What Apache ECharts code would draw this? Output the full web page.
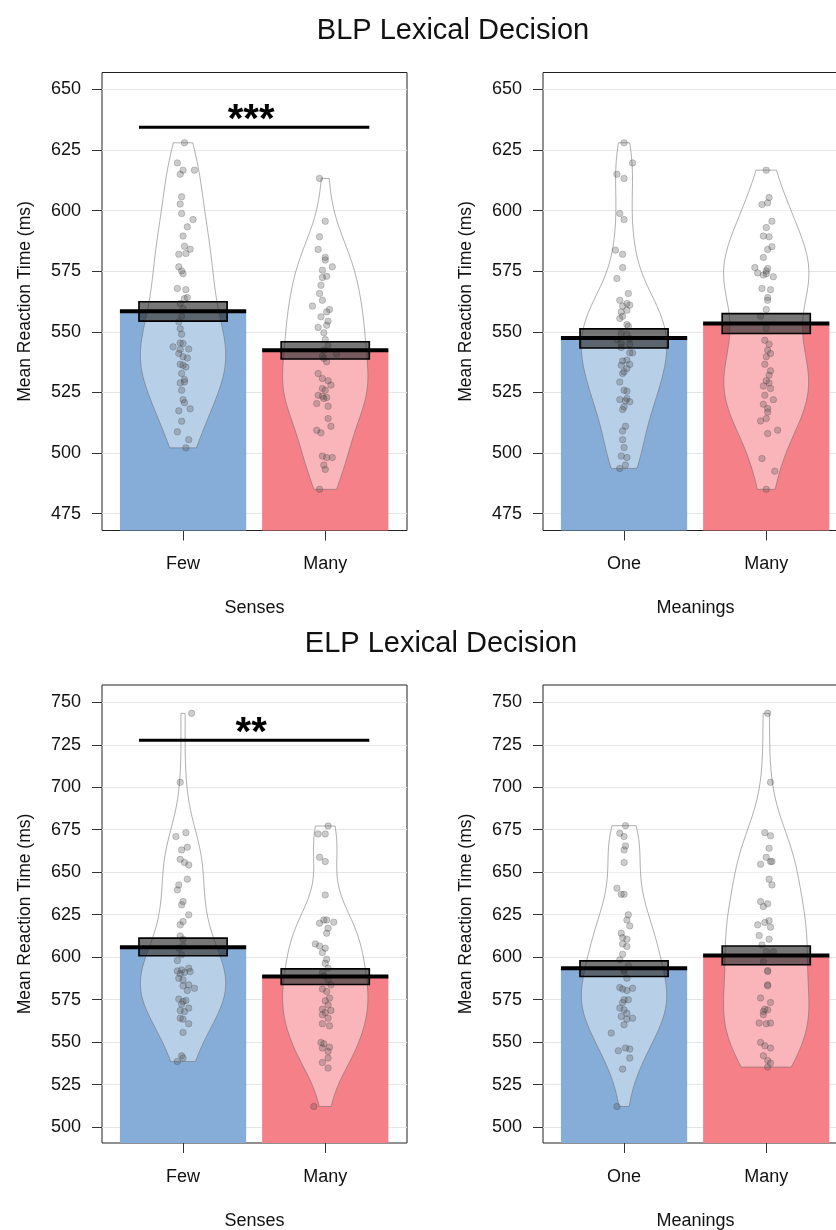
<!DOCTYPE html>
<html lang="en">
<head>
<meta charset="UTF-8">
<title>Lexical Decision</title>
<script src="https://cdn.jsdelivr.net/npm/echarts@6/dist/echarts.min.js"></script>
<style>
    * { margin: 0; padding: 0 }
    html, body { width: 836px; height: 1230px; background: #fff; }
    #main { width: 836px; height: 1230px; }
</style>
</head>
<body>
<div id="main"></div>
<script>
// each point: [horizontal jitter in category units, mean RT in ms]
var blpFewSenses = [
    [0.01, 628.0], [-0.04, 619.7], [0, 616.7], [0.08, 616.7], [-0.02, 615.0], [-0.01, 605.7], [-0.02, 602.7],
    [-0.01, 598.8], [0.07, 596.3], [0.03, 593.3], [0, 589.5], [0.01, 585.3], [0.05, 584.1], [-0.03, 582.0],
    [0.02, 582.3], [-0.03, 576.8], [-0.01, 575.1], [0, 574.0], [-0.04, 567.9], [0.02, 567.4], [0.03, 564.1],
    [0.01, 563.7], [-0.02, 561.7], [0, 559.6], [-0.01, 556.4], [-0.03, 554.1], [-0.02, 551.3], [-0.01, 549.0],
    [-0.02, 545.4], [0, 545.2], [-0.07, 543.8], [-0.02, 542.7], [0.04, 542.9], [-0.03, 541.0], [0, 539.7],
    [0.03, 539.2], [-0.02, 536.6], [0, 536.2], [0.02, 535.5], [-0.01, 532.8], [0.01, 530.3], [-0.02, 528.9],
    [0.01, 529.3], [-0.01, 525.9], [0, 522.0], [0.01, 520.7], [-0.03, 517.4], [0.05, 518.2], [-0.01, 513.1],
    [-0.04, 508.7], [0.04, 505.5], [0.02, 502.1]
];
var blpManySenses = [
    [-0.04, 613.3], [0, 595.6], [-0.04, 589.2], [-0.05, 584.0], [0, 580.7], [0, 579.6], [-0.02, 575.4],
    [0.05, 576.8], [-0.02, 572.4], [0.01, 572.9], [-0.03, 569.2], [-0.04, 565.8], [-0.09, 560.6], [-0.02, 563.0],
    [0.03, 559.2], [0.01, 558.2], [-0.03, 556.2], [0.02, 554.4], [0.01, 552.7], [-0.05, 551.8], [-0.01, 549.6],
    [0, 546.8], [0.02, 544.5], [-0.01, 542.4], [0.08, 540.8], [-0.02, 539.9], [-0.01, 539.0], [0.01, 537.6],
    [-0.05, 532.8], [-0.02, 530.7], [0.02, 529.8], [0.04, 528.0], [-0.02, 526.6], [0, 525.9], [-0.05, 523.8],
    [-0.02, 523.4], [0.01, 522.9], [-0.01, 522.5], [-0.06, 520.4], [0.02, 519.3], [0.02, 514.2], [0.04, 511.0],
    [-0.06, 509.4], [-0.03, 508.3], [-0.02, 498.7], [0.01, 498.1], [0.05, 498.1], [-0.01, 495.0], [0, 493.2],
    [-0.04, 485.0]
];
var blpOneMeaning = [
    [0, 628.0], [0.06, 619.7], [-0.05, 615.0], [0, 613.3], [-0.03, 598.8], [0, 596.3], [-0.06, 583.7],
    [-0.01, 582.0], [-0.01, 576.5], [-0.05, 572.0], [0.03, 565.8], [-0.03, 563.0], [0.02, 561.7], [0.04, 561.0],
    [-0.01, 560.6], [-0.02, 558.2], [0.02, 558.9], [-0.03, 555.5], [-0.01, 556.4], [0.02, 553.0], [0.03, 552.3],
    [-0.02, 549.3], [0.02, 549.0], [-0.05, 546.8], [0.04, 547.2], [-0.02, 545.2], [0.04, 544.9], [-0.02, 543.5],
    [0.06, 541.3], [0.04, 541.3], [0.02, 538.3], [-0.01, 537.9], [0.04, 536.5], [-0.02, 536.2], [0.02, 534.9],
    [0, 533.5], [-0.01, 532.8], [-0.03, 529.3], [0, 525.9], [0.02, 525.5], [-0.03, 522.0], [0.02, 522.5],
    [0.01, 521.5], [0.04, 521.1], [0, 519.0], [-0.01, 517.9], [0.01, 511.0], [-0.01, 509.1], [-0.01, 505.5],
    [0, 502.2], [-0.02, 498.7], [0.02, 498.1], [0.01, 495.0], [-0.03, 493.6]
];
var blpManyMeanings = [
    [0, 616.7], [0.02, 605.4], [-0.03, 602.5], [0.01, 603.2], [0.04, 595.6], [0, 593.0], [-0.02, 589.5],
    [0.02, 589.2], [0.01, 584.0], [0.04, 585.1], [-0.02, 580.7], [-0.08, 576.5], [0.01, 576.1], [0, 575.1],
    [-0.06, 574.3], [0, 574.0], [-0.02, 573.4], [0.05, 572.7], [-0.03, 567.9], [0.03, 567.4], [0.01, 564.1],
    [0.01, 563.0], [0, 559.2], [-0.04, 556.4], [0, 551.3], [-0.01, 546.5], [0.02, 544.9], [0.01, 542.4],
    [0.03, 541.0], [0, 539.7], [-0.01, 536.6], [0.03, 533.9], [0.02, 532.1], [0, 529.8], [0.02, 528.9],
    [-0.02, 527.6], [0.03, 526.6], [-0.01, 523.8], [0.05, 522.0], [-0.02, 520.1], [0.01, 518.3], [0.01, 516.9],
    [0, 514.2], [-0.04, 513.2], [0.08, 509.4], [0.01, 508.0], [-0.03, 497.7], [0.06, 492.5], [0, 485.0]
];
var elpFewSenses = [
    [0.06, 743.5], [-0.02, 702.9], [-0.05, 671.0], [0.02, 673.3], [-0.01, 663.1], [0.03, 664.7], [-0.02, 657.6],
    [0.01, 655.7], [0.04, 654.3], [0.03, 645.9], [-0.03, 642.5], [-0.04, 639.6], [0, 632.7], [-0.01, 630.8],
    [0.04, 624.9], [-0.02, 619.0], [0, 621.0], [-0.02, 612.5], [0, 610.6], [0, 606.6], [-0.03, 605.3],
    [-0.01, 601.4], [-0.04, 598.0], [0.04, 593.5], [-0.04, 591.9], [-0.01, 592.5], [-0.02, 590.2], [0.01, 591.0],
    [0.05, 591.5], [-0.03, 587.6], [0, 586.6], [0.04, 583.7], [0, 583.1], [0.08, 581.7], [0.03, 580.4],
    [-0.03, 575.3], [0, 573.9], [0.02, 574.5], [-0.01, 572.3], [0.04, 570.0], [-0.02, 568.6], [0.01, 568.0],
    [-0.02, 564.1], [0, 563.5], [0.04, 560.8], [0, 555.7], [-0.01, 541.9], [-0.04, 538.6], [0, 540.6]
];
var elpManySenses = [
    [0.02, 677.2], [-0.05, 672.5], [0, 672.5], [-0.04, 658.8], [0, 656.3], [0, 636.6], [-0.04, 620.0],
    [-0.01, 621.9], [0.01, 621.9], [0.06, 620.6], [0.02, 617.0], [0.01, 614.1], [-0.07, 607.8], [-0.04, 606.6],
    [0, 605.3], [-0.02, 602.7], [0.01, 598.8], [0, 596.4], [0.02, 593.5], [-0.02, 591.0], [-0.01, 589.0],
    [0.02, 586.6], [0.04, 583.7], [-0.02, 581.2], [0.01, 579.8], [0.03, 575.9], [0, 574.3], [0.02, 571.9],
    [-0.02, 569.4], [0.04, 568.6], [0, 567.4], [-0.02, 566.1], [0.02, 564.1], [-0.02, 560.8], [0.03, 559.6],
    [-0.03, 549.8], [-0.01, 549.0], [0.03, 547.0], [-0.02, 546.5], [0.02, 544.5], [0.02, 540.6], [-0.02, 538.0],
    [0.02, 534.7], [-0.08, 512.1]
];
var elpOneMeaning = [
    [0.01, 677.4], [-0.03, 672.9], [0, 671.0], [0.01, 665.5], [0, 663.1], [0, 655.7], [-0.05, 640.6],
    [-0.02, 637.0], [0, 637.0], [0.03, 624.9], [0.02, 621.9], [0.04, 618.4], [-0.02, 614.1], [-0.01, 611.5],
    [0.02, 610.6], [-0.01, 607.8], [0.02, 606.3], [-0.01, 601.7], [-0.03, 598.4], [0.03, 594.9], [0, 592.5],
    [0, 591.5], [0.02, 587.6], [-0.03, 582.1], [-0.01, 581.2], [0.02, 580.4], [0.06, 581.7], [0.03, 574.9],
    [0, 574.9], [-0.01, 573.3], [-0.03, 570.0], [0, 569.0], [0.02, 567.0], [-0.02, 565.1], [0.02, 563.5],
    [0.06, 564.1], [0, 560.2], [-0.09, 555.3], [-0.04, 544.9], [0.01, 546.5], [0.04, 545.9], [0.04, 540.6],
    [-0.01, 534.1], [-0.05, 512.1]
];
var elpManyMeanings = [
    [0.01, 743.5], [0.03, 702.9], [-0.01, 673.3], [0.03, 671.4], [0.02, 664.1], [0, 658.8], [0.03, 656.3],
    [-0.04, 654.7], [0.04, 656.3], [0.02, 645.9], [0.04, 642.5], [-0.04, 632.7], [-0.02, 629.8], [0.01, 631.4],
    [-0.01, 620.4], [0.02, 621.5], [-0.06, 619.0], [0.03, 617.6], [-0.05, 612.7], [0.02, 610.6], [-0.03, 607.2],
    [0, 603.3], [0.05, 603.3], [-0.02, 597.4], [0.01, 592.1], [0.01, 591.5], [0.01, 583.7], [0.01, 583.1],
    [-0.04, 575.9], [0.03, 573.3], [-0.01, 569.4], [-0.02, 568.0], [0.01, 569.0], [-0.02, 566.1], [-0.05, 561.2],
    [0, 560.8], [0.03, 561.2], [-0.04, 549.8], [-0.01, 547.8], [0.03, 546.5], [-0.02, 541.9], [0.01, 539.2],
    [0.01, 535.3], [0.03, 537.6]
];

// group means and 95% intervals
var blpSensesMeans = [558.5, 542.4];
var blpSensesCI = [[554.4, 562.4], [538.8, 545.9]];
var blpMeaningsMeans = [547.4, 553.4];
var blpMeaningsCI = [[543.3, 551.2], [549.3, 557.5]];
var elpSensesMeans = [605.9, 588.6];
var elpSensesCI = [[600.8, 611.2], [583.9, 593.1]];
var elpMeaningsMeans = [593.5, 600.9];
var elpMeaningsCI = [[588.6, 597.8], [595.5, 606.6]];

var sensesCats = ['Few', 'Many'];
var meaningsCats = ['One', 'Many'];
var blpTicks = [475, 500, 525, 550, 575, 600, 625, 650];
var elpTicks = [500, 525, 550, 575, 600, 625, 650, 675, 700, 725, 750];
var blpSig = [634.4, '***'];
var elpSig = [727.7, '**'];

var FONT = '"Liberation Sans", Arial, Helvetica, sans-serif';
var barColors = ['#86add8', '#f68088'];

var panels = [
    {left: 102, top: 72.5, range: [468, 657], ticks: blpTicks, cats: sensesCats, xName: 'Senses',
        groups: [blpFewSenses, blpManySenses], means: blpSensesMeans, ci: blpSensesCI, sig: blpSig},
    {left: 543, top: 72.5, range: [468, 657], ticks: blpTicks, cats: meaningsCats, xName: 'Meanings',
        groups: [blpOneMeaning, blpManyMeanings], means: blpMeaningsMeans, ci: blpMeaningsCI, sig: null},
    {left: 102, top: 685, range: [490.6, 760.2], ticks: elpTicks, cats: sensesCats, xName: 'Senses',
        groups: [elpFewSenses, elpManySenses], means: elpSensesMeans, ci: elpSensesCI, sig: elpSig},
    {left: 543, top: 685, range: [490.6, 760.2], ticks: elpTicks, cats: meaningsCats, xName: 'Meanings',
        groups: [elpOneMeaning, elpManyMeanings], means: elpMeaningsMeans, ci: elpMeaningsCI, sig: null}
];

// R-style gaussian density (bw.nrd0), cut at the data range like a pirate plot bean
function quantile(sorted, p) {
    var h = (sorted.length - 1) * p, lo = Math.floor(h);
    return sorted[lo] + (h - lo) * ((sorted[lo + 1] !== undefined ? sorted[lo + 1] : sorted[lo]) - sorted[lo]);
}
function beanOutline(vals, center, halfMax) {
    var s = vals.slice().sort(function (a, b) { return a - b; });
    var n = s.length, mean = s.reduce(function (a, b) { return a + b; }, 0) / n;
    var sd = Math.sqrt(s.reduce(function (a, b) { return a + (b - mean) * (b - mean); }, 0) / (n - 1));
    var iqr = quantile(s, 0.75) - quantile(s, 0.25);
    var bw = 0.9 * Math.min(sd, iqr / 1.34) * Math.pow(n, -0.2);
    var lo = s[0], hi = s[n - 1], steps = 120, ys = [], ds = [], maxD = 0;
    for (var i = 0; i <= steps; i++) {
        var y = lo + (hi - lo) * i / steps, d = 0;
        for (var j = 0; j < n; j++) {
            var z = (y - s[j]) / bw;
            d += Math.exp(-0.5 * z * z);
        }
        ys.push(y); ds.push(d); maxD = Math.max(maxD, d);
    }
    var right = [], left = [];
    for (var k = 0; k < ys.length; k++) {
        var w = ds[k] / maxD * halfMax;
        right.push([center + w, ys[k]]);
        left.unshift([center - w, ys[k]]);
    }
    return right.concat(left);
}

var option = {
    animation: false,
    backgroundColor: '#fff',
    grid: [], xAxis: [], yAxis: [], series: [],
    graphic: [
        {type: 'text', x: 453, y: 16, style: {text: 'BLP Lexical Decision', font: '29px ' + FONT, fill: '#111', align: 'center'}},
        {type: 'text', x: 441, y: 629, style: {text: 'ELP Lexical Decision', font: '29px ' + FONT, fill: '#111', align: 'center'}}
    ]
};

panels.forEach(function (p, i) {
    option.grid.push({
        left: p.left, top: p.top, width: 305, height: 458, outerBoundsMode: 'none',
        show: true, borderColor: '#222', borderWidth: 1, backgroundColor: 'transparent'
    });
    option.xAxis.push({
        type: 'value', gridIndex: i, min: 0.43, max: 2.575,
        name: p.xName, nameLocation: 'middle', nameGap: 69,
        nameTextStyle: {fontSize: 18, color: '#111', fontFamily: FONT},
        axisLine: {show: false}, splitLine: {show: false},
        axisTick: {show: true, length: 10, customValues: [1, 2], lineStyle: {color: '#333'}},
        axisLabel: {
            customValues: [1, 2], margin: 25, fontSize: 18, color: '#111', fontFamily: FONT,
            formatter: function (v) { return p.cats[Math.round(v) - 1]; }
        }
    });
    option.yAxis.push({
        type: 'value', gridIndex: i, min: p.range[0], max: p.range[1],
        name: 'Mean Reaction Time (ms)', nameLocation: 'middle', nameGap: 68,
        nameTextStyle: {fontSize: 17.5, color: '#111', fontFamily: FONT},
        axisLine: {show: false}, splitLine: {show: false},
        axisTick: {show: true, length: 10, customValues: p.ticks, lineStyle: {color: '#333'}},
        axisLabel: {customValues: p.ticks, margin: 21, fontSize: 18, color: '#111', fontFamily: FONT}
    });

    // horizontal reference lines behind everything
    option.series.push({
        type: 'scatter', xAxisIndex: i, yAxisIndex: i, data: [], z: 0, silent: true,
        markLine: {
            silent: true, symbol: 'none', label: {show: false}, z: 0,
            lineStyle: {color: '#e6e6e6', width: 1, type: 'solid'},
            data: p.ticks.map(function (t) { return {yAxis: t}; })
        }
    });

    var barData = p.means.map(function (m, g) { return [g + 1, m, p.ci[g][0], p.ci[g][1], g]; });

    // bars from the bottom of the axis up to the mean
    option.series.push({
        type: 'custom', xAxisIndex: i, yAxisIndex: i, z: 1, silent: true,
        data: barData, encode: {x: 0, y: 1},
        renderItem: function (params, api) {
            var x = api.value(0), m = api.value(1), g = api.value(4);
            var a = api.coord([x - 0.444, m]), b = api.coord([x + 0.444, p.range[0]]);
            return {type: 'rect', shape: {x: a[0], y: a[1], width: b[0] - a[0], height: b[1] - a[1]},
                style: {fill: barColors[g]}};
        }
    });

    // beans
    var beans = p.groups.map(function (grp, g) {
        return beanOutline(grp.map(function (d) { return d[1]; }), g + 1, 0.3);
    });
    option.series.push({
        type: 'custom', xAxisIndex: i, yAxisIndex: i, z: 2, silent: true,
        data: barData, encode: {x: 0, y: 1},
        renderItem: function (params, api) {
            var pts = beans[params.dataIndex].map(function (d) { return api.coord(d); });
            return {type: 'polygon', shape: {points: pts},
                style: {fill: 'rgba(255,255,255,0.42)', stroke: 'rgba(110,110,110,0.55)', lineWidth: 1}};
        }
    });

    // raw points
    p.groups.forEach(function (grp, g) {
        option.series.push({
            type: 'scatter', xAxisIndex: i, yAxisIndex: i, z: 3, silent: true,
            symbolSize: 6.5,
            itemStyle: {color: 'rgba(80,80,80,0.36)', borderColor: 'rgba(40,40,40,0.32)', borderWidth: 0.8},
            data: grp.map(function (d) { return [g + 1 + d[0], d[1]]; })
        });
    });

    // inference band and mean line
    option.series.push({
        type: 'custom', xAxisIndex: i, yAxisIndex: i, z: 4, silent: true,
        data: barData, encode: {x: 0, y: 1},
        renderItem: function (params, api) {
            var x = api.value(0), m = api.value(1);
            var c1 = api.coord([x - 0.31, api.value(3)]), c2 = api.coord([x + 0.31, api.value(2)]);
            var l1 = api.coord([x - 0.444, m]), l2 = api.coord([x + 0.444, m]);
            return {type: 'group', children: [
                {type: 'rect', shape: {x: c1[0], y: c1[1], width: c2[0] - c1[0], height: c2[1] - c1[1]},
                    style: {fill: 'rgba(35,35,35,0.62)', stroke: '#000', lineWidth: 1.6}},
                {type: 'line', shape: {x1: l1[0], y1: l1[1], x2: l2[0], y2: l2[1]},
                    style: {stroke: '#000', lineWidth: 4}}
            ]};
        }
    });

    if (p.sig) {
        option.series.push({
            type: 'custom', xAxisIndex: i, yAxisIndex: i, z: 5, silent: true,
            data: [[1.5, p.sig[0]]], encode: {x: 0, y: 1},
            renderItem: function (params, api) {
                var v = api.value(1);
                var a = api.coord([1 - 0.31, v]), b = api.coord([2 + 0.31, v]), c = api.coord([1.5, v]);
                return {type: 'group', children: [
                    {type: 'line', shape: {x1: a[0], y1: a[1], x2: b[0], y2: b[1]},
                        style: {stroke: '#000', lineWidth: 3}},
                    {type: 'text', x: c[0] - 3, y: c[1] + 14,
                        style: {text: p.sig[1], font: 'bold 40px ' + FONT, fill: '#000',
                            align: 'center', verticalAlign: 'bottom'}}
                ]};
            }
        });
    }
});

var myChart = echarts.init(document.getElementById('main'));
myChart.setOption(option);
</script>
</body>
</html>
